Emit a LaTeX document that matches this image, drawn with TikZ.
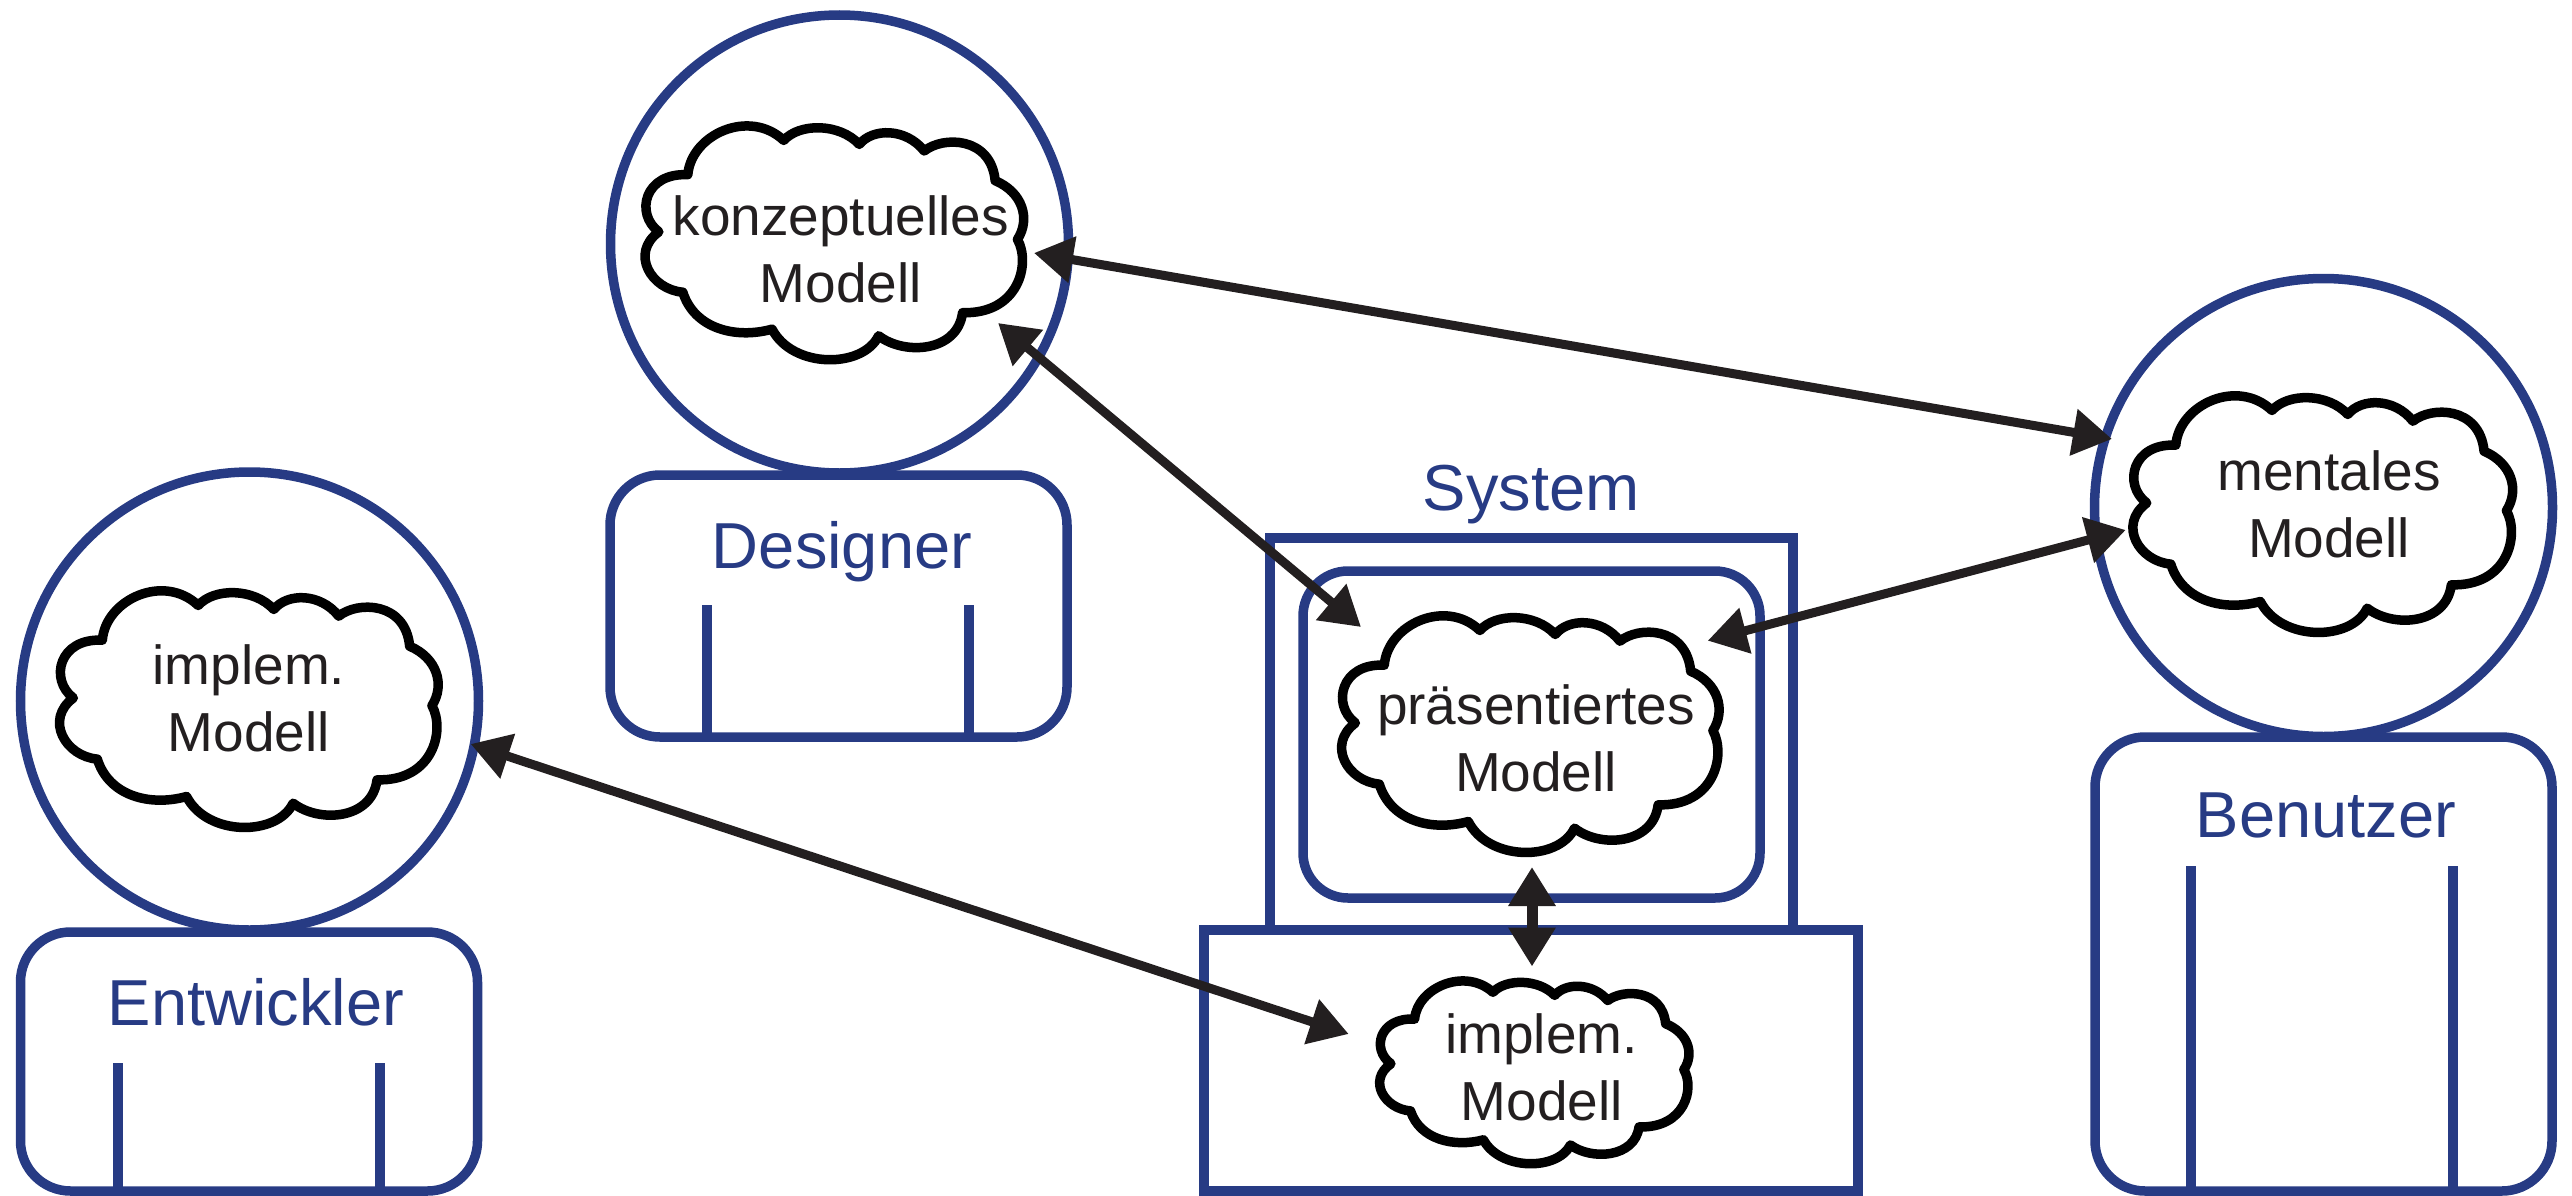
\documentclass[tikz,border=0pt]{standalone}
\usepackage{fontspec}
\setmainfont{Liberation Sans}
\usetikzlibrary{arrows.meta}
\definecolor{sysblue}{HTML}{273B84}
\definecolor{inkgrey}{HTML}{231F20}
\tikzset{
  x=1pt,y=-1pt,
  blueline/.style={draw=sysblue,line width=9.5pt},
  cloudline/.style={draw=black,line width=9.5pt,line join=round,fill=white},
  modeltext/.style={inkgrey,align=center,inner sep=0pt,font=\fontsize{55}{67}\selectfont},
  roletext/.style={sysblue,inner sep=0pt,font=\fontsize{65}{70}\selectfont},
  link/.style={draw=inkgrey,line width=9pt,{Triangle[length=39pt,width=45pt,fill=inkgrey]}-{Triangle[length=39pt,width=45pt,fill=inkgrey]}},
  mcloud/.pic={
    \draw[cloudline] (-439,-209)
      .. controls (-429,-331) and (-254,-411) .. (-151,-313)
      .. controls (-104,-366) and (16,-366) .. (76,-301)
      .. controls (116,-351) and (216,-351) .. (271,-281)
      .. controls (326,-326) and (471,-326) .. (484,-191)
      .. controls (566,-156) and (591,-76) .. (551,-13)
      .. controls (591,59) and (556,214) .. (386,209)
      .. controls (371,329) and (211,339) .. (134,279)
      .. controls (86,379) and (-124,379) .. (-186,259)
      .. controls (-294,289) and (-419,259) .. (-454,147)
      .. controls (-549,139) and (-614,29) .. (-526,-36)
      .. controls (-599,-91) and (-569,-216) .. (-439,-209) -- cycle;
  }
}
\begin{document}
\begin{tikzpicture}
\useasboundingbox (0,0) rectangle (2572,1196);
% heads
\draw[blueline] (839.5,244) circle[radius=229];
\draw[blueline] (249.5,701) circle[radius=229];
\draw[blueline] (2323.5,507.5) circle[radius=229];
% bodies
\draw[blueline,rounded corners=50pt] (610,475) rectangle (1067,737);
\draw[blueline] (707,605) -- (707,737) (969,605) -- (969,737);
\draw[blueline,rounded corners=50pt] (20.5,932) rectangle (477.5,1191);
\draw[blueline] (118,1063) -- (118,1191) (380,1063) -- (380,1191);
\draw[blueline,rounded corners=50pt] (2095,737) rectangle (2552,1191);
\draw[blueline] (2191,866) -- (2191,1191) (2453,866) -- (2453,1191);
% system
\draw[blueline] (1270,538) rectangle (1793,930);
\draw[blueline] (1204,930) rectangle (1858,1191);
\draw[blueline,rounded corners=45pt] (1303,571) rectangle (1760,898);
% clouds
\pic[xscale=0.3330,yscale=0.3300] at (834,243.7) {mcloud};
\pic[xscale=0.3340,yscale=0.3340] at (2322.4,515) {mcloud};
\pic[xscale=0.3330,yscale=0.3340] at (248.5,710) {mcloud};
\pic[xscale=0.3320,yscale=0.3340] at (1530,735) {mcloud};
\pic[xscale=0.2720,yscale=0.2580] at (1534,1073) {mcloud};
% texts
\node[modeltext] (konz) at (840.8,249.5) {konzeptuelles\\Modell};
\node[modeltext] (ment) at (2329,504.5) {mentales\\Modell};
\node[modeltext] (impa) at (249,698) {implem.\\Modell};
\node[modeltext] (prae) at (1536,738) {präsentiertes\\Modell};
\node[modeltext] (impb) at (1541.6,1067.5) {implem.\\Modell};
\node[roletext] (des) at (842,552) {Designer};
\node[roletext] (ent) at (256,1002) {Entwickler};
\node[roletext] (ben) at (2326,815) {Benutzer};
\node[roletext] (sys) at (1531,495) {System};
% arrow ends
\coordinate (a1) at (1034,253);
\coordinate (b1) at (2112,439);
\coordinate (a2) at (998,323);
\coordinate (b2) at (1361,627);
\coordinate (a3) at (2125.7,530);
\coordinate (b3) at (1707.7,640.7);
\coordinate (a4) at (1532,867);
\coordinate (b4) at (1532,966.5);
\coordinate (a5) at (470.7,744);
\coordinate (b5) at (1348.7,1034);
\draw[link] (a1) -- (b1);
\draw[link] (a2) -- (b2);
\draw[link] (a3) -- (b3);
\draw[link,line width=11pt] (a4) -- (b4);
\draw[link] (a5) -- (b5);
\end{tikzpicture}
\end{document}
